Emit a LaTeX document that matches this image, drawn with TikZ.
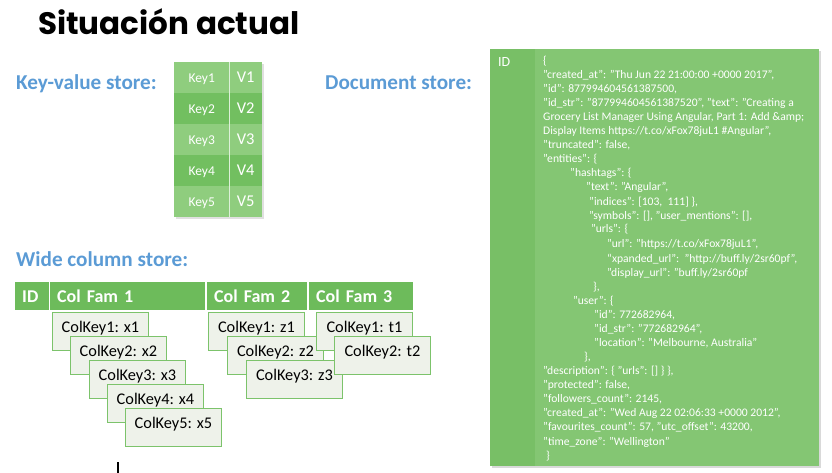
\documentclass[tikz,border=0pt]{standalone}
\usepackage{fontspec}
\setmainfont{Carlito}
\newfontfamily\titlefont{Poppins}
\definecolor{labelblue}{HTML}{5B9BD5}
\definecolor{kvlight}{HTML}{8FCD7E}
\definecolor{kvdark}{HTML}{72BF60}
\definecolor{hdrgreen}{HTML}{6DBB5B}
\definecolor{docgreen}{HTML}{84C673}
\definecolor{docid}{HTML}{78BF66}
\definecolor{keyfill}{HTML}{EEF2EA}
\definecolor{keyline}{HTML}{7CC36B}
\begin{document}
\begin{tikzpicture}[x=1pt, y=-1pt,
    storelabel/.style={anchor=base west, inner sep=0, text=labelblue, font=\fontsize{21.2}{24}\selectfont\bfseries},
    kvkey/.style={anchor=north west, minimum width=55pt, minimum height=31pt, inner sep=0, text=white, text height=9pt, text depth=0pt, font=\fontsize{13.5}{15}\selectfont},
    kvval/.style={anchor=north west, minimum width=33pt, minimum height=31pt, inner sep=0, text=white, text height=10.3pt, text depth=0pt, font=\fontsize{16.5}{18}\selectfont},
    hdr/.style={anchor=north west, fill=hdrgreen, minimum height=28pt, inner ysep=0, inner xsep=7pt, align=left, text=white, text height=12.6pt, text depth=0pt, font=\fontsize{18}{20}\selectfont\bfseries},
    colkey/.style={anchor=north west, draw=keyline, fill=keyfill, line width=0.9pt, minimum width=96pt, minimum height=38pt, inner sep=0, text height=20pt, text depth=18pt, font=\fontsize{16.3}{18}\selectfont},
    docline/.style={anchor=base west, inner sep=0, text=white, font=\fontsize{11.6}{13}\selectfont}]
  \useasboundingbox (0,0) rectangle (832,473);

  \node[anchor=base west, inner sep=0, font=\titlefont\bfseries\fontsize{31}{36}\selectfont] (title) at (38,35) {Situación actual};

  \node[storelabel] (kvlabel)  at (16,90)  {Key-value store:};
  \node[storelabel] (doclabel) at (325,90) {Document store:};
  \node[storelabel] (widelabel) at (16,266) {Wide column store:};

  \fill[black!12] (176,64) rectangle (264,219);
  \node[kvkey, fill=kvlight] (k1) at (174,62)  {Key1};
  \node[kvval, fill=kvlight] (v1) at (229,62)  {V1};
  \node[kvkey, fill=kvdark]  (k2) at (174,93)  {Key2};
  \node[kvval, fill=kvdark]  (v2) at (229,93)  {V2};
  \node[kvkey, fill=kvlight] (k3) at (174,124) {Key3};
  \node[kvval, fill=kvlight] (v3) at (229,124) {V3};
  \node[kvkey, fill=kvdark]  (k4) at (174,155) {Key4};
  \node[kvval, fill=kvdark]  (v4) at (229,155) {V4};
  \node[kvkey, fill=kvlight] (k5) at (174,186) {Key5};
  \node[kvval, fill=kvlight] (v5) at (229,186) {V5};
  \draw[white!70!kvlight, line width=0.5pt] (v1.north west) -- (v5.south west);

  \node[hdr, text width=20pt]  (hid)  at (15,282)  {ID};
  \node[hdr, text width=141pt] (fam1) at (50,282)  {Col Fam 1};
  \node[hdr, text width=86pt]  (fam2) at (207,282) {Col Fam 2};
  \node[hdr, text width=90pt]  (fam3) at (309,282) {Col Fam 3};

  \node[colkey] (x1) at (52,312)  {ColKey1: x1};
  \node[colkey] (x2) at (70,336)  {ColKey2: x2};
  \node[colkey] (x3) at (89,360)  {ColKey3: x3};
  \node[colkey] (x4) at (107,384) {ColKey4: x4};
  \node[colkey] (x5) at (125,408) {ColKey5: x5};

  \node[colkey] (z1) at (208,312) {ColKey1: z1};
  \node[colkey] (z2) at (227,336) {ColKey2: z2};
  \node[colkey] (z3) at (246,360) {ColKey3: z3};

  \node[colkey] (t1) at (316,312) {ColKey1: t1};
  \node[colkey] (t2) at (334,336) {ColKey2: t2};

  \draw[line width=2pt] (118,462) -- (118,473);

  \fill[black!15] (492,51) rectangle (821,468);
  \node[anchor=north west, fill=docgreen, minimum width=329pt, minimum height=417pt, inner sep=0] (doc) at (490,49) {};
  \node[anchor=north west, fill=docid, minimum width=45pt, minimum height=417pt, inner sep=0] (docidcol) at (490,49) {};
  \node[anchor=base west, inner sep=0, text=white, font=\fontsize{14}{16}\selectfont] (docid) at (498,67) {ID};

  \node[docline] (d1)  at (543,65)  {\{};
  \node[docline] (d2)  at (543,79)  {"created\_at": "Thu Jun 22 21:00:00 +0000 2017",};
  \node[docline] (d3)  at (543,93)  {"id": 877994604561387500,};
  \node[docline] (d4)  at (543,107) {"id\_str": "877994604561387520", "text": "Creating a};
  \node[docline] (d5)  at (543,121) {Grocery List Manager Using Angular, Part 1: Add \&amp;};
  \node[docline] (d6)  at (543,135) {Display Items https://t.co/xFox78juL1 \#Angular",};
  \node[docline] (d7)  at (543,149) {"truncated": false,};
  \node[docline] (d8)  at (543,163) {"entities": \{};
  \node[docline] (d9)  at (570,177) {"hashtags": \{};
  \node[docline] (d10) at (586,191) {"text": "Angular",};
  \node[docline] (d11) at (589,205) {"indices": [103,\ \ 111] \},};
  \node[docline] (d12) at (589,219) {"symbols": [], "user\_mentions": [],};
  \node[docline] (d13) at (591,233) {"urls": \{};
  \node[docline] (d14) at (607,247) {"url": "https://t.co/xFox78juL1",};
  \node[docline] (d15) at (607,262) {“xpanded\_url":\ \ "http://buff.ly/2sr60pf",};
  \node[docline] (d16) at (607,276) {"display\_url": "buff.ly/2sr60pf};
  \node[docline] (d17) at (593,290) {\},};
  \node[docline] (d18) at (573,304) {"user": \{};
  \node[docline] (d19) at (594,318) {"id": 772682964,};
  \node[docline] (d20) at (594,332) {"id\_str": "772682964",};
  \node[docline] (d21) at (594,346) {"location": "Melbourne, Australia"};
  \node[docline] (d22) at (584,360) {\},};
  \node[docline] (d23) at (543,374) {"description": \{ "urls": [] \} \},};
  \node[docline] (d24) at (543,388) {"protected": false,};
  \node[docline] (d25) at (543,402) {"followers\_count": 2145,};
  \node[docline] (d26) at (543,416) {"created\_at": "Wed Aug 22 02:06:33 +0000 2012",};
  \node[docline] (d27) at (543,430) {"favourites\_count": 57, "utc\_offset": 43200,};
  \node[docline] (d28) at (543,445) {"time\_zone": "Wellington"};
  \node[docline] (d29) at (546,459) {\}};
\end{tikzpicture}
\end{document}
